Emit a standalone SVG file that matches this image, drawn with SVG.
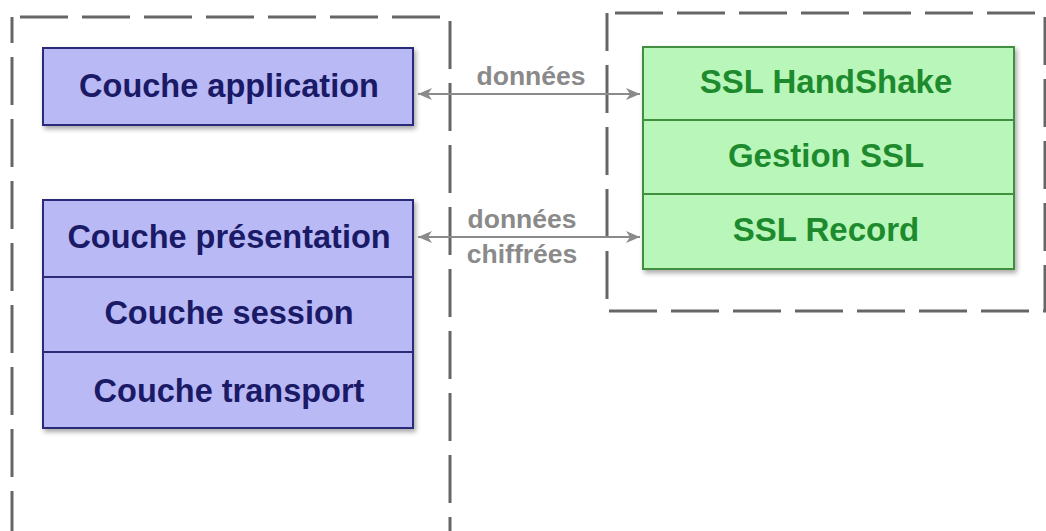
<svg xmlns="http://www.w3.org/2000/svg" width="1046" height="531" viewBox="0 0 1046 531">
<style>
.frame{fill:none;stroke:#666;stroke-width:3;stroke-dasharray:48 14}
.blue{fill:#b9b9f6;stroke:#2b2b7a;stroke-width:2}
.green{fill:#b9f6b9;stroke:#3f8f3f;stroke-width:2}
.bt{font-family:"Liberation Sans",Arial,sans-serif;font-weight:bold;font-size:32.5px;fill:#1a1a66;text-anchor:middle}
.gt{font-family:"Liberation Sans",Arial,sans-serif;font-weight:bold;font-size:33px;fill:#1e8a2e;text-anchor:middle}
.lt{font-family:"Liberation Sans",Arial,sans-serif;font-weight:bold;font-size:26.5px;fill:#8a8a8a;text-anchor:middle}
.conn{stroke:#8a8a8a;stroke-width:2;fill:none}
</style>
<defs>
<filter id="sh" x="-10%" y="-10%" width="120%" height="130%">
<feGaussianBlur in="SourceAlpha" stdDeviation="2.5"/>
<feOffset dx="2" dy="3" result="b"/>
<feComponentTransfer><feFuncA type="linear" slope="0.35"/></feComponentTransfer>
<feMerge><feMergeNode/><feMergeNode in="SourceGraphic"/></feMerge>
</filter>
<marker id="ah" viewBox="0 0 14 12" refX="14" refY="6" markerWidth="14" markerHeight="12" markerUnits="userSpaceOnUse" orient="auto-start-reverse">
<path d="M0,0 L14,6 L0,12 L4,6 Z" fill="#8a8a8a"/>
</marker>
</defs>
<rect width="1046" height="531" fill="#ffffff"/>

<g id="frame-left">
<rect class="frame" x="12" y="17" width="438" height="540" stroke-dashoffset="-8"/>
</g>
<g id="frame-right">
<rect class="frame" x="607" y="13" width="438" height="298" stroke-dashoffset="-8"/>
</g>

<g id="couche-application">
<rect class="blue" x="43" y="48" width="370" height="77" filter="url(#sh)"/>
<text class="bt" x="229" y="97">Couche application</text>
</g>

<g id="pile-gauche" filter="url(#sh)">
<rect class="blue" x="43" y="200" width="370" height="228"/>
</g>
<g id="couche-presentation">
<line class="blue" x1="43" y1="277" x2="413" y2="277"/>
<text class="bt" x="229" y="248">Couche présentation</text>
</g>
<g id="couche-session">
<line class="blue" x1="43" y1="352" x2="413" y2="352"/>
<text class="bt" x="229" y="324">Couche session</text>
</g>
<g id="couche-transport">
<text class="bt" x="229" y="402">Couche transport</text>
</g>

<g id="pile-ssl" filter="url(#sh)">
<rect class="green" x="643" y="47" width="371" height="222"/>
</g>
<g id="ssl-handshake">
<text class="gt" x="826" y="93">SSL HandShake</text>
<line class="green" x1="643" y1="120" x2="1014" y2="120"/>
</g>
<g id="gestion-ssl">
<text class="gt" x="826" y="167">Gestion SSL</text>
<line class="green" x1="643" y1="194" x2="1014" y2="194"/>
</g>
<g id="ssl-record">
<text class="gt" x="826" y="241">SSL Record</text>
</g>

<g id="connecteurs">
<line class="conn" x1="418" y1="94" x2="640" y2="94" marker-start="url(#ah)" marker-end="url(#ah)"/>
<text class="lt" x="531" y="85">données</text>
<line class="conn" x1="418" y1="237" x2="640" y2="237" marker-start="url(#ah)" marker-end="url(#ah)"/>
<text class="lt" x="522" y="228">données</text>
<text class="lt" x="522" y="263">chiffrées</text>
</g>
</svg>
